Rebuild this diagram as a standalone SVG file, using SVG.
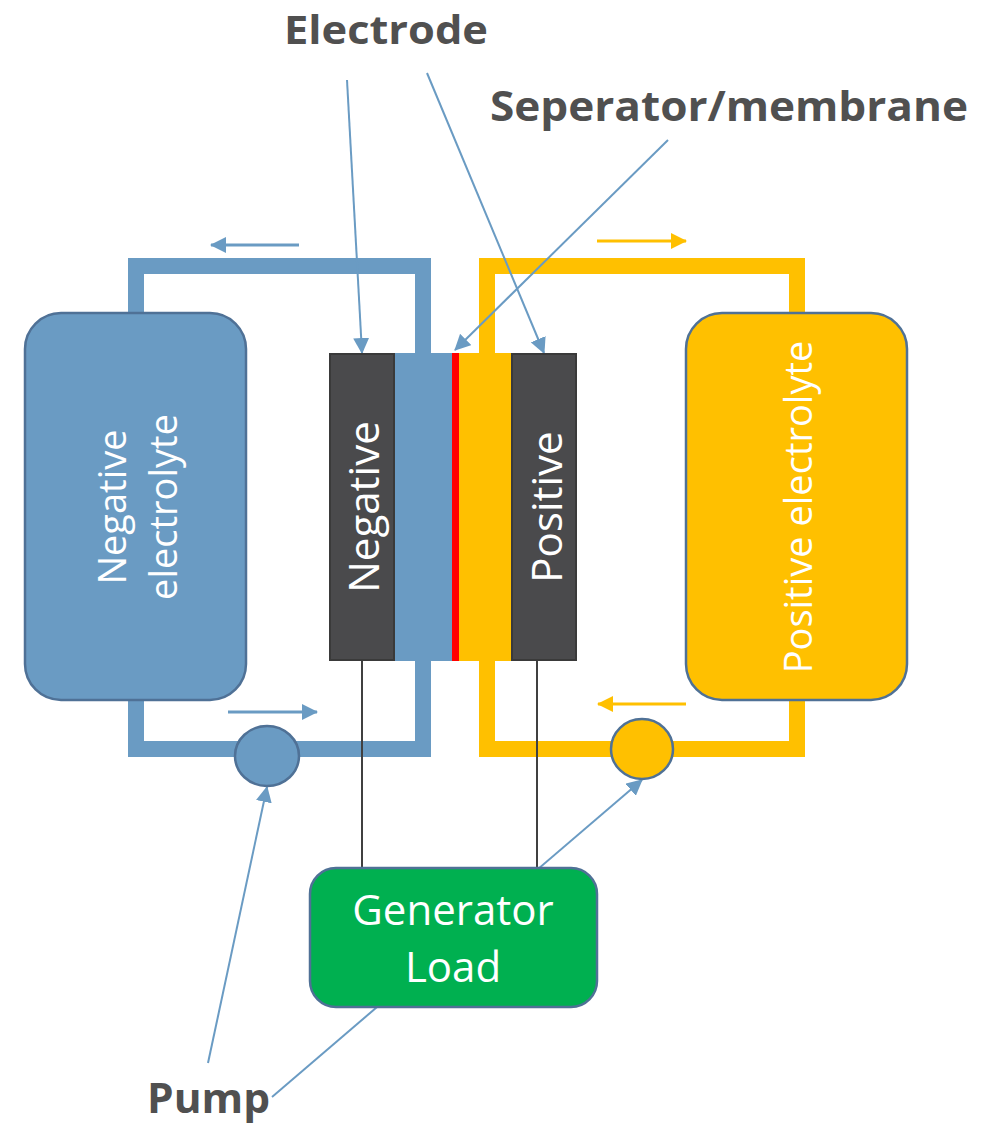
<svg xmlns="http://www.w3.org/2000/svg" width="996" height="1123" viewBox="0 0 996 1123">
  <style>
    .pipe-blue { fill: none; stroke: #6a9bc3; stroke-width: 16; stroke-linejoin: miter; stroke-linecap: butt; }
    .pipe-yellow { fill: none; stroke: #ffc000; stroke-width: 16; stroke-linejoin: miter; stroke-linecap: butt; }
    .pointer { fill: none; stroke: #6a9bc3; stroke-width: 2; }
    .flow-blue { fill: none; stroke: #6a9bc3; stroke-width: 3; }
    .flow-yellow { fill: none; stroke: #ffc000; stroke-width: 3; }
    .wire { fill: none; stroke: #404040; stroke-width: 2; }
    .outline { stroke: #4f7196; stroke-width: 2.5; }
    .electrode { fill: #4a4a4c; stroke: #3a3a3a; stroke-width: 2; }
    .label { font-family: "Open Sans", "Liberation Sans", sans-serif; font-weight: bold; fill: #505050; }
    .inner { font-family: "Open Sans", "Liberation Sans", sans-serif; fill: #ffffff; text-anchor: middle; }
  </style>
  <defs>
    <marker id="head-blue" markerUnits="userSpaceOnUse" markerWidth="16" markerHeight="16" viewBox="0 0 16 16" refX="15" refY="8" orient="auto">
      <path d="M0 0 L16 8 L0 16 z" fill="#6a9bc3"/>
    </marker>
    <marker id="head-yellow" markerUnits="userSpaceOnUse" markerWidth="16" markerHeight="16" viewBox="0 0 16 16" refX="15" refY="8" orient="auto">
      <path d="M0 0 L16 8 L0 16 z" fill="#ffc000"/>
    </marker>
  </defs>

  <rect width="996" height="1123" fill="#ffffff"/>

  <!-- electrolyte pipework -->
  <g id="pipes">
    <path class="pipe-blue" d="M136 313 V266 H423 V354"/>
    <path class="pipe-blue" d="M136 699 V749 H423 V660"/>
    <path class="pipe-yellow" d="M487 354 V266 H797 V313"/>
    <path class="pipe-yellow" d="M487 660 V749 H797 V699"/>
  </g>

  <!-- connectors: flow arrows, pointers, electrode wires -->
  <g id="connectors">
    <line class="flow-blue" x1="299" y1="245" x2="211" y2="245" marker-end="url(#head-blue)"/>
    <line class="flow-blue" x1="228" y1="712" x2="317" y2="712" marker-end="url(#head-blue)"/>
    <line class="flow-yellow" x1="597" y1="241" x2="686" y2="241" marker-end="url(#head-yellow)"/>
    <line class="flow-yellow" x1="686" y1="704" x2="598" y2="704" marker-end="url(#head-yellow)"/>

    <line class="pointer" x1="347" y1="80" x2="362" y2="353" marker-end="url(#head-blue)"/>
    <line class="pointer" x1="427" y1="73" x2="544" y2="353" marker-end="url(#head-blue)"/>
    <line class="pointer" x1="668" y1="140" x2="455" y2="350" marker-end="url(#head-blue)"/>
    <line class="pointer" x1="208" y1="1063" x2="267" y2="787" marker-end="url(#head-blue)"/>
    <line class="pointer" x1="272" y1="1097" x2="642" y2="780" marker-end="url(#head-blue)"/>

    <line class="wire" x1="362" y1="661" x2="362" y2="868"/>
    <line class="wire" x1="537" y1="661" x2="537" y2="868"/>
  </g>

  <g id="negative-tank">
    <rect class="outline" x="25" y="313" width="221" height="387" rx="36" fill="#6a9bc3"/>
    <text class="inner" font-size="38" transform="translate(126 507) rotate(-90)">Negative</text>
    <text class="inner" font-size="38" transform="translate(177 507) rotate(-90)">electrolyte</text>
  </g>

  <g id="positive-tank">
    <rect class="outline" x="686" y="313" width="221" height="387" rx="36" fill="#ffc000"/>
    <text class="inner" font-size="38" transform="translate(812 507) rotate(-90)">Positive electrolyte</text>
  </g>

  <g id="cell">
    <rect x="394" y="353" width="58" height="308" fill="#6a9bc3"/>
    <rect x="459" y="353" width="53" height="308" fill="#ffc000"/>
    <rect x="452" y="353" width="7" height="308" fill="#ff0000"/>
    <rect class="electrode" x="330" y="354" width="64" height="306"/>
    <rect class="electrode" x="512" y="354" width="64" height="306"/>
    <text class="inner" font-size="42" transform="translate(379 507) rotate(-90)">Negative</text>
    <text class="inner" font-size="42" transform="translate(562 507) rotate(-90)">Positive</text>
  </g>

  <g id="pump-negative">
    <ellipse class="outline" cx="267" cy="756" rx="32" ry="30" fill="#6a9bc3"/>
  </g>

  <g id="pump-positive">
    <ellipse class="outline" cx="642" cy="749" rx="31" ry="30" fill="#ffc000"/>
  </g>

  <g id="generator">
    <rect class="outline" x="310" y="868" width="287" height="139" rx="26" fill="#00b050"/>
    <text class="inner" font-size="42" x="453" y="925">Generator</text>
    <text class="inner" font-size="42" x="453" y="982">Load</text>
  </g>

  <g id="labels">
    <text class="label" font-size="40" x="284" y="44" textLength="204" lengthAdjust="spacingAndGlyphs">Electrode</text>
    <text class="label" font-size="41" x="490" y="121" textLength="478" lengthAdjust="spacingAndGlyphs">Seperator/membrane</text>
    <text class="label" font-size="42" x="147" y="1113" textLength="123" lengthAdjust="spacingAndGlyphs">Pump</text>
  </g>
</svg>
